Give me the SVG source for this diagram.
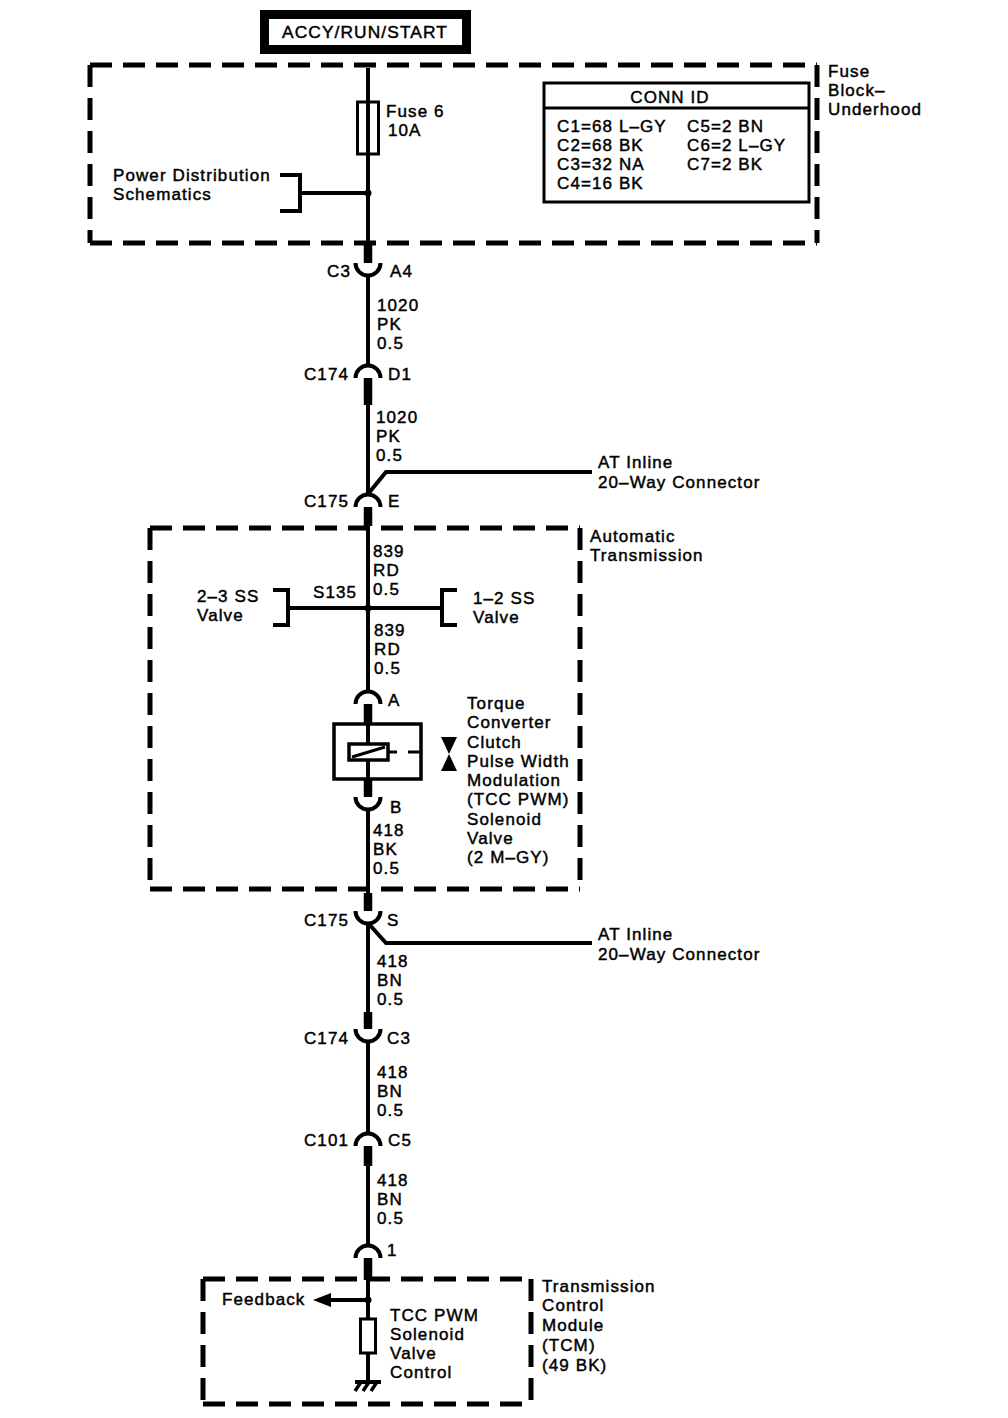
<svg xmlns="http://www.w3.org/2000/svg" width="1008" height="1418" viewBox="0 0 1008 1418">
<style>
text{font-family:"Liberation Sans",Arial,sans-serif;font-size:17px;letter-spacing:1.1px;fill:#000;stroke:#000;stroke-width:0.45}
.w{stroke:#000;stroke-width:4;fill:none}
.stub{stroke:#000;stroke-width:8.5;fill:none}
.dash{stroke:#000;stroke-width:5;fill:none;stroke-dasharray:22 11}
.box{stroke:#000;stroke-width:3;fill:none}
.brk{stroke:#000;stroke-width:4;fill:none}
.end{text-anchor:end}
.mid{text-anchor:middle}
</style>
<rect width="1008" height="1418" fill="#fff"/>

<g id="source-accy-run-start">
<rect x="264.5" y="14.5" width="202" height="35" fill="#fff" stroke="#000" stroke-width="9"/>
<text x="365" y="38" class="mid" textLength="166" lengthAdjust="spacingAndGlyphs">ACCY/RUN/START</text>
</g>

<g id="fuse-block-underhood">
<path class="dash" d="M90,65 H817 M817,65 V243 M90,243 H817 M90,65 V243"/>
<text x="828" y="77">Fuse</text>
<text x="828" y="96">Block–</text>
<text x="828" y="115">Underhood</text>
</g>

<g id="fuse-6">
<rect x="357.5" y="102" width="21" height="52" class="box"/>
<text x="386" y="117">Fuse 6</text>
<text x="388" y="136">10A</text>
</g>

<g id="power-distribution">
<path class="brk" d="M280,175 H300 V211 H280"/>
<text x="113" y="181">Power Distribution</text>
<text x="113" y="200">Schematics</text>
</g>

<g id="conn-id">
<rect x="544" y="83" width="265" height="119" class="box"/>
<path class="box" d="M544,108 H809"/>
<text x="670" y="103" class="mid">CONN ID</text>
<text x="557" y="132">C1=68 L–GY</text>
<text x="557" y="151">C2=68 BK</text>
<text x="557" y="170">C3=32 NA</text>
<text x="557" y="189">C4=16 BK</text>
<text x="687" y="132">C5=2 BN</text>
<text x="687" y="151">C6=2 L–GY</text>
<text x="687" y="170">C7=2 BK</text>
</g>

<g id="at-box">
<path class="dash" d="M150,528 H580 M580,528 V889 M150,889 H580 M150,528 V889"/>
<text x="590" y="542">Automatic</text>
<text x="590" y="561">Transmission</text>
</g>

<g id="tcm-box">
<path class="dash" d="M203,1279 H531 M531,1279 V1404 M203,1404 H531 M203,1279 V1404"/>
<text x="542" y="1292">Transmission</text>
<text x="542" y="1311">Control</text>
<text x="542" y="1331">Module</text>
<text x="542" y="1351">(TCM)</text>
<text x="542" y="1371">(49 BK)</text>
</g>

<g id="connectors">
<path class="w" d="M368,68 V245"/>
<circle cx="368" cy="193" r="3.5"/>
<path class="w" d="M300,193 H368"/>
<path class="w" d="M368,276 V366"/>
<path class="w" d="M368,405 V495"/>
<path class="w" d="M368,494 L386,472 H592"/>
<path class="w" d="M368,526 V692"/>
<path class="w" d="M288,608 H442"/>
<circle cx="368" cy="608" r="3.5"/>
<path class="w" d="M368,809 V893"/>
<path class="w" d="M368,923 L386,943 H592"/>
<path class="w" d="M368,923 V1012"/>
<path class="w" d="M368,1041 V1134"/>
<path class="w" d="M368,1166 V1246"/>
<path class="w" d="M368,1280 V1319"/>
<circle cx="368" cy="1300" r="3.5"/>
<path class="w" d="M368,1300 H329"/>
<polygon points="313,1300 331,1293 331,1307"/>
<path class="w" d="M368,1353 V1381"/>
</g>

<g id="c3-a4">
<path class="stub" d="M368,245 V263"/>
<path class="w" d="M355.5,263 A12.5,12.5 0 0 0 380.5,263"/>
<text x="351" y="277" class="end">C3</text>
<text x="390" y="277">A4</text>
</g>

<g id="wire-1020-a">
<text x="377" y="311">1020</text>
<text x="377" y="330">PK</text>
<text x="377" y="349">0.5</text>
</g>

<g id="c174-d1">
<path class="w" d="M355.5,378 A12.5,12.5 0 0 1 380.5,378"/>
<path class="stub" d="M368,378 V405"/>
<text x="349" y="380" class="end">C174</text>
<text x="388" y="380">D1</text>
</g>

<g id="wire-1020-b">
<text x="376" y="423">1020</text>
<text x="376" y="442">PK</text>
<text x="376" y="461">0.5</text>
</g>

<g id="c175-e">
<path class="w" d="M355.5,507 A12.5,12.5 0 0 1 380.5,507"/>
<path class="stub" d="M368,507 V526"/>
<text x="349" y="507" class="end">C175</text>
<text x="388" y="507">E</text>
<text x="598" y="468">AT Inline</text>
<text x="598" y="488">20–Way Connector</text>
</g>

<g id="wire-839-a">
<text x="373" y="557">839</text>
<text x="373" y="576">RD</text>
<text x="373" y="595">0.5</text>
</g>

<g id="s135">
<text x="313" y="598">S135</text>
</g>

<g id="valve-2-3">
<path class="brk" d="M273,590 H288 V625 H273"/>
<text x="197" y="602">2–3 SS</text>
<text x="197" y="621">Valve</text>
</g>

<g id="valve-1-2">
<path class="brk" d="M457,590 H442 V625 H457"/>
<text x="473" y="604">1–2 SS</text>
<text x="473" y="623">Valve</text>
</g>

<g id="wire-839-b">
<text x="374" y="636">839</text>
<text x="374" y="655">RD</text>
<text x="374" y="674">0.5</text>
</g>

<g id="conn-a">
<path class="w" d="M355.5,704 A12.5,12.5 0 0 1 380.5,704"/>
<path class="stub" d="M368,704 V724"/>
<text x="388" y="706">A</text>
</g>

<g id="tcc-pwm-solenoid">
<rect x="334" y="724" width="87" height="55" fill="none" stroke="#000" stroke-width="3.5"/>
<path class="w" d="M368,724 V744 M368,760 V779"/>
<rect x="349" y="744" width="39" height="16" fill="none" stroke="#000" stroke-width="3.5"/>
<path stroke="#000" stroke-width="3" d="M352,757 L385,747"/>
<path stroke="#000" stroke-width="3" d="M388,752 H397 M408,752 H421"/>
<polygon points="441,737 457,737 449,754"/>
<polygon points="449,754 441,771 457,771"/>
<text x="467" y="709">Torque</text>
<text x="467" y="728">Converter</text>
<text x="467" y="748">Clutch</text>
<text x="467" y="767">Pulse Width</text>
<text x="467" y="786">Modulation</text>
<text x="467" y="805">(TCC PWM)</text>
<text x="467" y="825">Solenoid</text>
<text x="467" y="844">Valve</text>
<text x="467" y="863">(2 M–GY)</text>
</g>

<g id="conn-b">
<path class="stub" d="M368,779 V797"/>
<path class="w" d="M355.5,797 A12.5,12.5 0 0 0 380.5,797"/>
<text x="390" y="813">B</text>
</g>

<g id="wire-418-bk">
<text x="373" y="836">418</text>
<text x="373" y="855">BK</text>
<text x="373" y="874">0.5</text>
</g>

<g id="c175-s">
<path class="stub" d="M368,893 V911"/>
<path class="w" d="M355.5,911 A12.5,12.5 0 0 0 380.5,911"/>
<text x="349" y="926" class="end">C175</text>
<text x="387" y="926">S</text>
<text x="598" y="940">AT Inline</text>
<text x="598" y="960">20–Way Connector</text>
</g>

<g id="wire-418-bn-a">
<text x="377" y="967">418</text>
<text x="377" y="986">BN</text>
<text x="377" y="1005">0.5</text>
</g>

<g id="c174-c3">
<path class="stub" d="M368,1012 V1029"/>
<path class="w" d="M355.5,1029 A12.5,12.5 0 0 0 380.5,1029"/>
<text x="349" y="1044" class="end">C174</text>
<text x="387" y="1044">C3</text>
</g>

<g id="wire-418-bn-b">
<text x="377" y="1078">418</text>
<text x="377" y="1097">BN</text>
<text x="377" y="1116">0.5</text>
</g>

<g id="c101-c5">
<path class="w" d="M355.5,1146 A12.5,12.5 0 0 1 380.5,1146"/>
<path class="stub" d="M368,1146 V1166"/>
<text x="349" y="1146" class="end">C101</text>
<text x="388" y="1146">C5</text>
</g>

<g id="wire-418-bn-c">
<text x="377" y="1186">418</text>
<text x="377" y="1205">BN</text>
<text x="377" y="1224">0.5</text>
</g>

<g id="conn-1">
<path class="w" d="M355.5,1258 A12.5,12.5 0 0 1 380.5,1258"/>
<path class="stub" d="M368,1258 V1280"/>
<text x="387" y="1256">1</text>
</g>

<g id="tcm-feedback">
<text x="222" y="1305">Feedback</text>
</g>

<g id="tcm-solenoid-control">
<rect x="360.5" y="1319" width="15" height="34" class="box"/>
<text x="390" y="1321">TCC PWM</text>
<text x="390" y="1340">Solenoid</text>
<text x="390" y="1359">Valve</text>
<text x="390" y="1378">Control</text>
</g>

<g id="ground">
<path class="w" d="M355,1382 H381"/>
<path stroke="#000" stroke-width="3.5" d="M361,1382 L355,1391 M369,1382 L363,1391 M377,1382 L371,1391"/>
</g>
</svg>
